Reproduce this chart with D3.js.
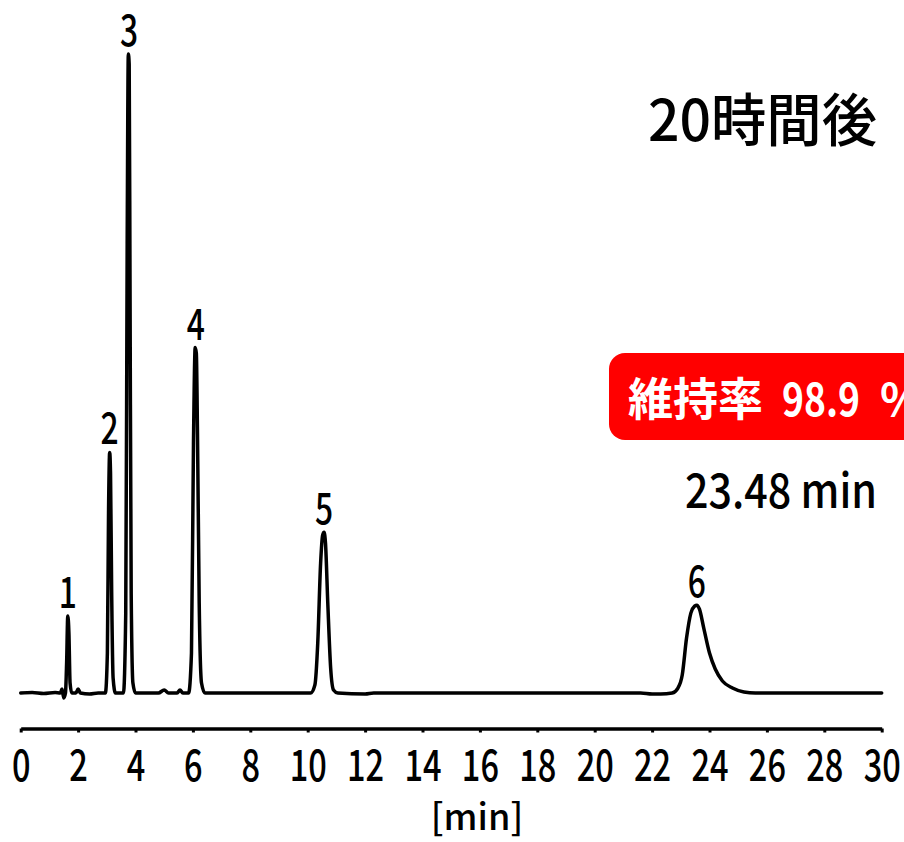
<!DOCTYPE html>
<html><head><meta charset="utf-8">
<script src="https://cdn.jsdelivr.net/npm/d3@7"></script>
<style>html,body{margin:0;padding:0;background:#fff;}svg{display:block;}</style>
</head><body>
<script>
// ---- data ----
const times  = [0,0.4,0.8,1.2,1.38,1.44,1.50,1.56,1.60,1.64,1.68,1.72,1.78,1.92,2.0,2.08,2.4,2.7,2.95,3.02,3.06,3.10,3.13,3.17,3.22,3.30,3.58,3.66,3.71,3.75,3.78,3.81,3.85,3.91,4.0,4.8,5.0,5.15,5.45,5.55,5.65,5.85,5.95,6.02,6.08,6.12,6.16,6.22,6.30,6.42,8,10.1,10.25,10.35,10.45,10.52,10.57,10.62,10.70,10.80,10.90,11.05,12.0,12.3,14,16,20,21.6,22.0,22.3,22.7,22.9,23.05,23.2,23.35,23.48,23.56,23.65,23.8,24.0,24.2,24.45,24.8,25.2,25.6,30];
const signal = [0,0.5,-0.5,0.5,0,4,-5,0,30,77,60,10,0,0,4,0,-1,0,0,40,180,241,220,100,15,0,0,80,450,640,630,400,100,10,0,0,3,0,0,3,0,0,40,250,346,340,260,90,10,0,0,0,8,50,130,158,161,150,90,25,3,0,-1,0,0,0,0,0,-1,-1,0,5,18,55,80,87,88,84,65,40,24,12,5,1,0,0];
const peakNames  = ["1","2","3","4","5","6"];
const peakTimes  = [1.64,3.10,3.78,6.10,10.57,23.56];
const peakHeights= [77,241,640,346,161,88];
const xTicks = [0,2,4,6,8,10,12,14,16,18,20,22,24,26,28,30];
const titleText = "20時間後";
const badgeLabel = "維持率";
const badgeValue = "98.9";
const badgeUnit = "%";
const rtText = "23.48 min";
const xLabel = "[min]";

const W = 904, H = 842;
const svg = d3.select("body").append("svg").attr("width", W).attr("height", H);
const FONT = "'Noto Sans CJK JP','Noto Sans',sans-serif";

const x = d3.scaleLinear().domain([0,30]).range([20.7,881.7]);
const y = d3.scaleLinear().domain([0,640]).range([693,54]);

// chromatogram
const pts = times.map((t,i)=>[t,signal[i]]);
svg.append("path").datum(pts)
  .attr("fill","none").attr("stroke","#000").attr("stroke-width",3.5)
  .attr("stroke-linejoin","round").attr("stroke-linecap","round")
  .attr("d", d3.line().x(d=>x(d[0])).y(d=>y(d[1])).curve(d3.curveMonotoneX));

// x axis
const ax = svg.append("g").attr("transform","translate(0,728.5)")
  .call(d3.axisBottom(x).tickValues(xTicks).tickSize(4).tickSizeOuter(0).tickPadding(18).tickFormat(d3.format("d")));
ax.select(".domain").attr("stroke","#000").attr("stroke-width",3.5);
ax.selectAll(".tick line").attr("stroke","#000").attr("stroke-width",3);
ax.selectAll(".tick text").attr("fill","#000").attr("font-family",FONT).attr("font-weight",500)
  .attr("font-size",44).attr("dy",0).attr("y",52.5).attr("transform","scale(0.74,1)");

// axis label
svg.append("text").attr("x",477).attr("y",830).attr("text-anchor","middle")
  .attr("font-family",FONT).attr("font-size",36).attr("font-weight",500).attr("fill","#000").text(xLabel);

// peak labels
peakNames.forEach((n,i)=>{
  svg.append("g").attr("transform",`translate(${x(peakTimes[i])},${y(peakHeights[i])-8})`)
    .append("text").attr("text-anchor","middle").attr("transform","scale(0.74,1)")
    .attr("font-family",FONT).attr("font-size",43).attr("font-weight",500).attr("fill","#000").text(n);
});

// title
svg.append("text").attr("x",648).attr("y",141).attr("font-family",FONT)
  .attr("font-size",57).attr("font-weight",500).attr("fill","#000")
  .attr("textLength",229).attr("lengthAdjust","spacingAndGlyphs").text(titleText);

// badge
svg.append("rect").attr("x",609).attr("y",353).attr("width",340).attr("height",87)
  .attr("rx",16).attr("fill","#ff0000");
const bt = svg.append("text").attr("y",416).attr("font-family",FONT)
  .attr("font-size",45).attr("font-weight","bold").attr("fill","#fff");
bt.append("tspan").attr("x",628).attr("textLength",135).attr("lengthAdjust","spacingAndGlyphs").text(badgeLabel);
bt.append("tspan").attr("x",782).attr("textLength",78).attr("lengthAdjust","spacingAndGlyphs").text(badgeValue);
bt.append("tspan").attr("x",880).text(badgeUnit);

// retention time
svg.append("text").attr("x",685).attr("y",508).attr("font-family",FONT)
  .attr("font-size",48).attr("font-weight",500).attr("fill","#000")
  .attr("textLength",192).attr("lengthAdjust","spacingAndGlyphs").text(rtText);
</script>
</body></html>
